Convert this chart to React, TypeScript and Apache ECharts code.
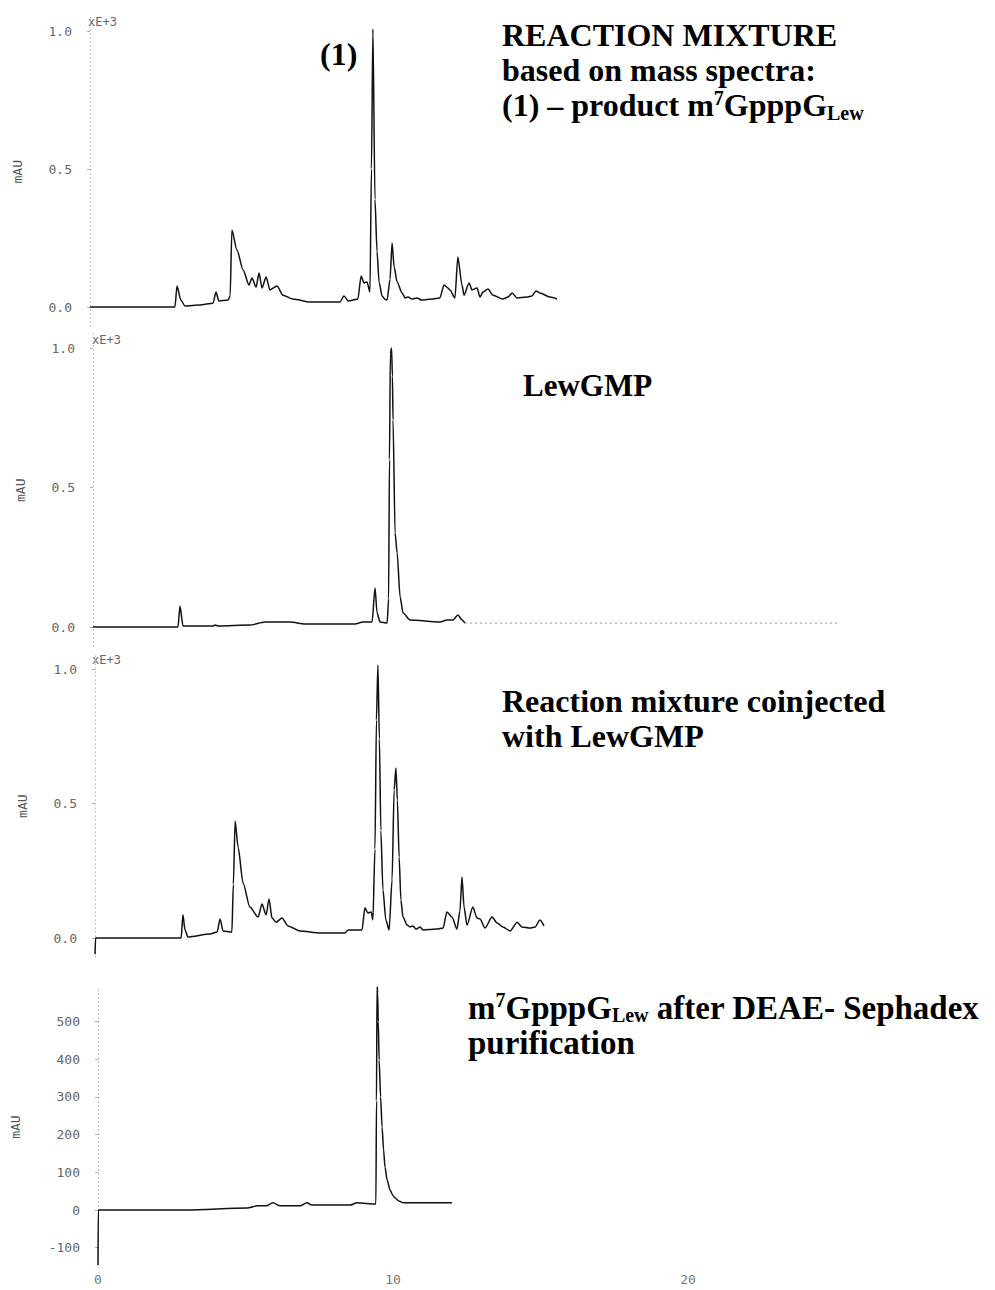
import React, { useEffect, useRef } from "react";
import * as echarts from "echarts";

// ---------- data (retention time in min, absorbance) ----------
// Panel 1: reaction mixture (mAU x 1e3)
const p1Time = [0, 2.88, 2.95, 3.08, 3.22, 3.73, 4.17, 4.27, 4.37, 4.68, 4.75, 4.81, 4.98, 5.19, 5.39, 5.49, 5.63, 5.73, 5.83, 5.97, 6.1, 6.34, 6.54, 6.88, 7.46, 8.47, 8.61, 8.75, 9.08, 9.19, 9.29, 9.39, 9.49, 9.54, 9.59, 9.66, 9.73, 9.8, 9.9, 10.0, 10.07, 10.17, 10.24, 10.31, 10.41, 10.58, 10.68, 10.78, 10.92, 11.08, 11.25, 11.59, 11.86, 12.0, 12.1, 12.2, 12.37, 12.47, 12.61, 12.68, 12.85, 12.95, 13.12, 13.22, 13.32, 13.49, 13.66, 14.0, 14.17, 14.31, 14.47, 14.81, 14.98, 15.12, 15.25, 15.59, 15.83];
const p1Value = [0, 0, 0.076, 0.025, 0.004, 0.007, 0.014, 0.054, 0.022, 0.025, 0.04, 0.279, 0.207, 0.134, 0.08, 0.105, 0.072, 0.123, 0.069, 0.109, 0.062, 0.076, 0.043, 0.029, 0.018, 0.018, 0.04, 0.022, 0.029, 0.112, 0.087, 0.091, 0.054, 0.5, 1.007, 0.39, 0.2, 0.09, 0.04, 0.028, 0.025, 0.1, 0.232, 0.145, 0.091, 0.051, 0.033, 0.036, 0.029, 0.033, 0.025, 0.029, 0.033, 0.08, 0.072, 0.062, 0.033, 0.181, 0.08, 0.043, 0.087, 0.062, 0.069, 0.036, 0.054, 0.065, 0.043, 0.029, 0.036, 0.051, 0.033, 0.036, 0.04, 0.058, 0.051, 0.036, 0.029];

// Panel 2: LewGMP (mAU x 1e3)
const p2Time = [0, 2.88, 2.95, 3.05, 4.07, 4.14, 4.24, 5.32, 5.83, 6.34, 6.68, 7.19, 8.88, 9.15, 9.46, 9.56, 9.63, 9.73, 9.97, 10.02, 10.05, 10.08, 10.12, 10.15, 10.17, 10.24, 10.31, 10.41, 10.51, 10.75, 11.76, 12.0, 12.2, 12.37, 12.51, 12.61];
const p2Value = [0, 0, 0.075, 0.004, 0.004, 0.007, 0.004, 0.007, 0.018, 0.018, 0.018, 0.011, 0.011, 0.018, 0.018, 0.14, 0.05, 0.018, 0.014, 0.1, 0.6, 0.98, 1.0, 0.9, 0.742, 0.337, 0.265, 0.108, 0.05, 0.025, 0.018, 0.025, 0.025, 0.043, 0.025, 0.014];
const p2BaseTime = [12.61, 25.3];
const p2BaseValue = [0.014, 0.014];

// Panel 3: reaction mixture coinjected with LewGMP (mAU x 1e3)
const p3Time = [0, 0.02, 2.92, 2.98, 3.05, 3.15, 3.9, 4.14, 4.24, 4.34, 4.64, 4.69, 4.75, 4.85, 5.02, 5.25, 5.53, 5.66, 5.8, 5.9, 6.0, 6.14, 6.34, 6.54, 6.95, 7.63, 8.47, 8.58, 9.05, 9.15, 9.25, 9.36, 9.42, 9.49, 9.54, 9.59, 9.64, 9.69, 9.76, 9.86, 9.97, 10.07, 10.14, 10.2, 10.25, 10.31, 10.37, 10.44, 10.58, 10.68, 10.78, 10.88, 11.02, 11.12, 11.59, 11.8, 11.93, 12.1, 12.27, 12.37, 12.44, 12.51, 12.61, 12.81, 12.95, 13.05, 13.22, 13.46, 13.63, 13.83, 14.07, 14.31, 14.47, 14.75, 14.92, 15.08, 15.22];
const p3Value = [-0.06, 0, 0, 0.086, 0.03, 0.004, 0.015, 0.022, 0.071, 0.026, 0.022, 0.2, 0.435, 0.338, 0.204, 0.115, 0.078, 0.126, 0.086, 0.145, 0.074, 0.059, 0.074, 0.045, 0.026, 0.019, 0.019, 0.03, 0.03, 0.112, 0.093, 0.097, 0.067, 0.33, 0.81, 1.015, 0.74, 0.4, 0.18, 0.067, 0.03, 0.216, 0.55, 0.632, 0.513, 0.3, 0.14, 0.078, 0.048, 0.041, 0.045, 0.033, 0.041, 0.03, 0.033, 0.037, 0.097, 0.078, 0.033, 0.1, 0.227, 0.115, 0.048, 0.115, 0.074, 0.071, 0.037, 0.078, 0.056, 0.041, 0.026, 0.059, 0.041, 0.037, 0.041, 0.067, 0.045];

// Panel 4: m7GpppG_Lew after DEAE-Sephadex (mAU)
const p4Time = [0, 0.01, 3.0, 5.05, 5.4, 5.7, 5.93, 6.17, 6.85, 7.08, 7.25, 8.54, 8.78, 9.39, 9.42, 9.44, 9.46, 9.48, 9.5, 9.53, 9.58, 9.63, 9.68, 9.73, 9.8, 9.9, 10.0, 10.07, 10.2, 10.34, 10.8, 12.0];
const p4Value = [-146, 0, 0, 5, 11, 11, 19, 11, 11, 19, 13, 13, 19, 16, 16, 290, 600, 575, 500, 398, 300, 220, 160, 114, 80, 53, 38, 32, 24, 19, 19, 19];

// tick labels
const kTicks = [0, 0.5, 1.0];
const mauTicks = [-100, 0, 100, 200, 300, 400, 500];
const timeTicks = [0, 10, 20];

const zip = (t: number[], v: number[]) => t.map((x, i) => [x, v[i]]);

const MONO = "'DejaVu Sans Mono', 'Liberation Mono', monospace";
const SERIF = "'Liberation Serif', 'Times New Roman', serif";
const X_MAX = 30;
const PX_PER_MIN = 29.5;

export default function App() {
  const ref = useRef<HTMLDivElement>(null);
  useEffect(() => {
    if (!ref.current) return;
    const chart = echarts.init(ref.current, undefined, { renderer: "svg" });

    const panels = [
      { left: 90, zero: 307, ppu: 276, min: -0.07, max: 1.05 },
      { left: 93, zero: 627, ppu: 279, min: -0.07, max: 1.05 },
      { left: 95, zero: 938, ppu: 269, min: -0.07, max: 1.05 },
      { left: 98, zero: 1210, ppu: 0.377, min: -150, max: 590 },
    ];

    const grids = panels.map((p) => ({
      left: p.left,
      top: p.zero - p.max * p.ppu,
      width: X_MAX * PX_PER_MIN,
      height: (p.max - p.min) * p.ppu,
    }));

    const xAxes = panels.map((p, i) => ({
      type: "value",
      gridIndex: i,
      min: 0,
      max: X_MAX,
      axisLine: { show: false },
      axisTick: { show: false },
      splitLine: { show: false },
      axisLabel:
        i === 3
          ? { show: true, customValues: timeTicks, color: "#777", fontFamily: MONO, fontSize: 13, margin: 6 }
          : { show: false },
    }));

    const yAxes = panels.map((p, i) => ({
      type: "value",
      gridIndex: i,
      min: p.min,
      max: p.max,
      name: "mAU",
      nameLocation: "middle",
      nameGap: i === 3 ? 76 : 66,
      nameTextStyle: { color: "#555", fontFamily: MONO, fontSize: 13 },
      axisLine: { show: true, lineStyle: { color: "#bbb", type: [1, 3], width: 1 } },
      axisTick: {
        show: true,
        length: 3,
        customValues: i === 3 ? mauTicks : kTicks,
        lineStyle: { color: "#aaa" },
      },
      splitLine: { show: false },
      axisLabel: {
        customValues: i === 3 ? mauTicks : kTicks,
        formatter: (v: number) => (i === 3 ? String(v) : v.toFixed(1)),
        color: "#666",
        fontFamily: MONO,
        fontSize: 13,
        margin: 18,
      },
    }));

    const lineStyle = { color: "#111", width: 1.5 };
    const mk = (data: number[][], idx: number, extra: any = {}) => ({
      type: "line",
      xAxisIndex: idx,
      yAxisIndex: idx,
      data,
      symbol: "none",
      smooth: 0.25,
      smoothMonotone: "x",
      lineStyle,
      silent: true,
      ...extra,
    });

    const series = [
      mk(zip(p1Time, p1Value), 0),
      mk(zip(p2Time, p2Value), 1),
      mk(zip(p2BaseTime, p2BaseValue), 1, {
        smooth: false,
        lineStyle: { color: "#999", width: 1, type: [2, 3] },
      }),
      mk(zip(p3Time, p3Value), 2),
      mk(zip(p4Time, p4Value), 3),
    ];

    const makeRich = (fs: number) => ({
      n: { fontSize: fs, fontWeight: "bold", fontFamily: SERIF, lineHeight: 35, fill: "#000", verticalAlign: "middle" },
      sup: { fontSize: 20, fontWeight: "bold", fontFamily: SERIF, lineHeight: 24, verticalAlign: "top", fill: "#000" },
      sub: { fontSize: 20, fontWeight: "bold", fontFamily: SERIF, lineHeight: 26, verticalAlign: "bottom", fill: "#000" },
    });
    const title = (x: number, y: number, text: string, fs = 32) => ({
      type: "text",
      x,
      y,
      silent: true,
      style: { text, rich: makeRich(fs), fontSize: fs, fontWeight: "bold", fontFamily: SERIF, lineHeight: 35, fill: "#000", verticalAlign: "top", align: "left" },
    });
    const small = (x: number, y: number, text: string) => ({
      type: "text",
      x,
      y,
      silent: true,
      style: { text, fontSize: 12, fontFamily: MONO, fill: "#666", verticalAlign: "middle", align: "left" },
    });

    chart.setOption({
      animation: false,
      backgroundColor: "#fff",
      grid: grids,
      xAxis: xAxes,
      yAxis: yAxes,
      series,
      graphic: [
        title(502, 17.5, "{n|REACTION MIXTURE}\n{n|based on mass spectra:}\n{n|(1) – product m}{sup|7}{n|GpppG}{sub|Lew}"),
        title(320, 36, "{n|(1)}"),
        title(523, 368, "{n|LewGMP}", 31),
        title(502, 683, "{n|Reaction mixture coinjected}\n{n|with LewGMP}"),
        title(468, 990, "{n|m}{sup|7}{n|GpppG}{sub|Lew}{n| after DEAE- Sephadex}\n{n|purification}", 33),
        small(88, 22, "xE+3"),
        small(92, 340, "xE+3"),
        small(92, 660, "xE+3"),
      ],
    });
    return () => chart.dispose();
  }, []);
  return (
    <div
      ref={ref}
      style={{ position: "absolute", left: 0, top: 0, width: 995, height: 1290, background: "#fff" }}
    />
  );
}
